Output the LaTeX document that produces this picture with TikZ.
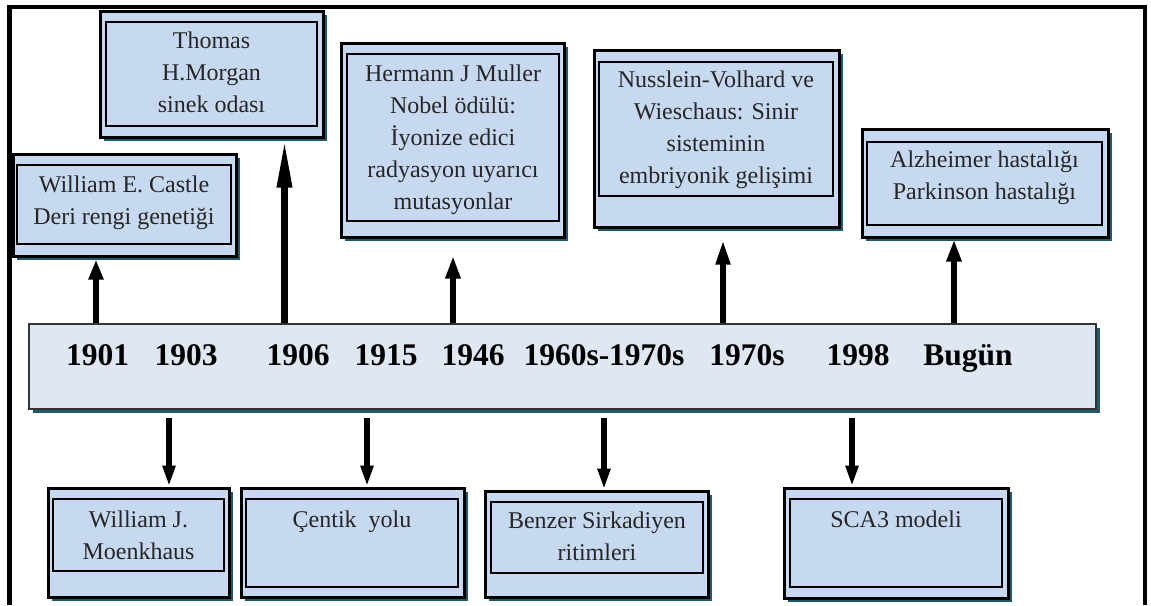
\documentclass[tikz,border=0pt]{standalone}
\usepackage{fontspec}
\setmainfont{Liberation Serif}
\usetikzlibrary{arrows.meta,shadows}
\definecolor{boxfill}{HTML}{C6D9F1}
\definecolor{tlfill}{HTML}{DFE7F2}
\definecolor{shadowc}{HTML}{215968}
\definecolor{txt}{HTML}{262626}
\tikzset{
  myshadow/.style={drop shadow={shadow xshift=4pt, shadow yshift=-4pt, fill=shadowc, opacity=1}},
  outerbox/.style={rectangle, draw=black, line width=3pt, fill=boxfill, inner sep=0pt, myshadow},
  innerbox/.style={rectangle, draw=black, line width=2.6pt, inner sep=0pt},
  boxtext/.style={font=\fontsize{24}{32}\selectfont, text=txt, align=center, anchor=north, inner sep=0pt},
  yeartext/.style={font=\fontsize{31.5}{36}\selectfont\bfseries, text=black, anchor=base, inner sep=0pt},
  tline/.style={rectangle, draw=black!80, line width=2pt, fill=tlfill, inner sep=0pt, myshadow},
  uparrow/.style={line width=6.5pt},
  downarrow/.style={line width=6pt, -{Triangle[length=21pt,width=12pt]}},
  framelines/.style={line width=4.5pt, line join=miter}
}
\begin{document}
\begin{tikzpicture}[x=1pt,y=-1pt]
\useasboundingbox (0,0) rectangle (1151,605);
% outer frame
\draw[framelines] (9.5,605) -- (9.5,7) -- (1145,7) -- (1145,605);

% timeline bar
\node[tline, minimum width=1067pt, minimum height=85pt] (tl) at (562.5,366.5) {};
\node[yeartext] (y1901) at (97.5,365) {1901};
\node[yeartext] (y1903) at (186,365) {1903};
\node[yeartext] (y1906) at (298,365) {1906};
\node[yeartext] (y1915) at (386,365) {1915};
\node[yeartext] (y1946) at (473,365) {1946};
\node[yeartext] (y1960) at (604,365) {1960s-1970s};
\node[yeartext] (y1970) at (747,365) {1970s};
\node[yeartext] (y1998) at (858,365) {1998};
\node[yeartext] (ybugun) at (968,365) {Bugün};

% upper boxes
\node[outerbox, minimum width=223pt, minimum height=102pt] (castle) at (124.5,205) {};
\node[innerbox, minimum width=214pt, minimum height=79pt] (castlein) at (124,204.5) {};
\node[boxtext] (castletx) at (124,169.6) {\strut William E. Castle\\Deri rengi genetiği};

\node[outerbox, minimum width=223pt, minimum height=126pt] (morgan) at (211.5,74) {};
\node[innerbox, minimum width=211pt, minimum height=104pt] (morganin) at (211.5,74) {};
\node[boxtext] (morgantx) at (211.5,25.6) {\strut Thomas\\H.Morgan\\sinek odası};

\node[outerbox, minimum width=223pt, minimum height=194pt] (muller) at (452.5,140) {};
\node[innerbox, minimum width=212pt, minimum height=167pt] (mullerin) at (453,137.5) {};
\node[boxtext] (mullertx) at (453,58.6) {\strut Hermann J Muller\\Nobel ödülü:\\İyonize edici\\radyasyon uyarıcı\\mutasyonlar};

\node[outerbox, minimum width=245pt, minimum height=177pt] (nuss) at (716.5,138.5) {};
\node[innerbox, minimum width=234pt, minimum height=134pt] (nussin) at (716,129) {};
\node[boxtext] (nusstx) at (716,64.6) {\strut Nusslein-Volhard ve\\Wieschaus: Sinir\\sisteminin\\embriyonik gelişimi};

\node[outerbox, minimum width=246pt, minimum height=108pt] (alz) at (985,183) {};
\node[innerbox, minimum width=235pt, minimum height=83pt] (alzin) at (984.5,183.5) {};
\node[boxtext] (alztx) at (984.5,144.6) {\strut Alzheimer hastalığı\\Parkinson hastalığı};

% lower boxes
\node[outerbox, minimum width=181pt, minimum height=109pt] (moenk) at (138.5,542.5) {};
\node[innerbox, minimum width=171pt, minimum height=72pt] (moenkin) at (138.5,535) {};
\node[boxtext] (moenktx) at (138.5,504.6) {\strut William J.\\Moenkhaus};

\node[outerbox, minimum width=223pt, minimum height=109pt] (centik) at (352.5,542.5) {};
\node[innerbox, minimum width=212pt, minimum height=88pt] (centikin) at (352,543) {};
\node[boxtext] (centiktx) at (352,504.6) {\strut Çentik\ \ yolu};

\node[outerbox, minimum width=223pt, minimum height=106pt] (benzer) at (596.5,544) {};
\node[innerbox, minimum width=212pt, minimum height=71pt] (benzerin) at (597,537.5) {};
\node[boxtext] (benzertx) at (597,505.6) {\strut Benzer Sirkadiyen\\ritimleri};

\node[outerbox, minimum width=224pt, minimum height=110pt] (sca) at (896,543) {};
\node[innerbox, minimum width=212pt, minimum height=88pt] (scain) at (896,543) {};
\node[boxtext] (scatx) at (896,504.6) {\strut SCA3 modeli};

% arrow columns
\coordinate (a1) at (96,0);
\coordinate (a2) at (284.5,0);
\coordinate (a3) at (453,0);
\coordinate (a4) at (723,0);
\coordinate (a5) at (954,0);
\coordinate (d1) at (169,0);
\coordinate (d2) at (367,0);
\coordinate (d3) at (604,0);
\coordinate (d4) at (852,0);

% up arrows
\draw[uparrow, -{Triangle[length=20pt,width=14pt]}, shorten >=2pt] (tl.north -| a1) -- (castle.south -| a1);
\draw[uparrow, -{Triangle[length=48pt,width=14pt]}, shorten >=1pt] (tl.north -| a2) -- (morgan.south -| a2);
\draw[uparrow, -{Triangle[length=23pt,width=14pt]}, shorten >=17pt] (tl.north -| a3) -- (muller.south -| a3);
\draw[uparrow, -{Triangle[length=26pt,width=13pt]}, shorten >=10pt] (tl.north -| a4) -- (nuss.south -| a4);
\draw[uparrow, -{Triangle[length=22pt,width=14pt]}, shorten >=1pt] (tl.north -| a5) -- (alz.south -| a5);

% down arrows
\draw[downarrow, shorten <=8pt] (tl.south -| d1) -- (moenk.north -| d1);
\draw[downarrow, shorten <=8pt] (tl.south -| d2) -- (centik.north -| d2);
\draw[downarrow, shorten <=8pt] (tl.south -| d3) -- (benzer.north -| d3);
\draw[downarrow, shorten <=8pt] (tl.south -| d4) -- (sca.north -| d4);
\end{tikzpicture}
\end{document}
